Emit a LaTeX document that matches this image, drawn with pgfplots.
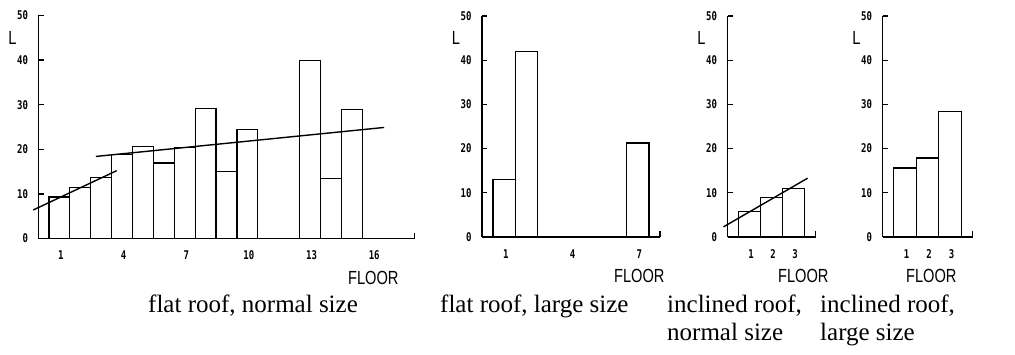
\documentclass[border=0pt]{standalone}
\usepackage{pgfplots}
\pgfplotsset{compat=1.18}
\usepackage{graphicx}
\usepackage{fontspec}
\setmainfont{Liberation Serif}
\newfontfamily\tickfont{DejaVu Sans Mono}
\newfontfamily\labfont{Liberation Sans}
\newcommand\tk[1]{\scalebox{0.75}[1]{\tickfont\bfseries\fontsize{12}{12}\selectfont #1}}
\newcommand\lb[1]{\scalebox{0.77}[1]{\labfont\fontsize{19}{19}\selectfont #1}}
\pgfplotsset{
  panel/.style={
    scale only axis, clip=false,
    axis lines=left, axis line style={-, line width=1.4pt},
    ymin=0, ymax=50, ytick={0,10,20,30,40,50},
    yticklabels={\tk{0},\tk{10},\tk{20},\tk{30},\tk{40},\tk{50}},
    tick align=inside, major tick length=5pt,
    ytick style={line width=1.2pt, black},
    xtick style={draw=none},
    yticklabel style={xshift=-7pt},
    xticklabel style={yshift=-9pt, xshift=1.5pt},
    every axis x label/.style={at={(axis description cs:1,0)}, anchor=east, yshift=-39pt},
    every axis y label/.style={at={(axis description cs:0,1)}, anchor=center, xshift=-26pt, yshift=-22pt},
    xlabel={\lb{FLOOR}}, ylabel={\lb{L}},
  },
  bars/.style={ybar, bar width=1, fill=white, draw=black, line width=1.3pt},
  fit/.style={black, line width=1.4pt, mark=none},
}
\begin{document}
\begin{tikzpicture}[x=1pt,y=1pt]
\useasboundingbox (0pt,0pt) rectangle (1015pt,354pt);
% panel 1
\begin{axis}[panel, at={(38.5pt,115.5pt)}, anchor=south west, width=376pt, height=223pt,
  xmin=0, xmax=18, xtick={1,4,7,10,13,16},
  xticklabels={\tk{1},\tk{4},\tk{7},\tk{10},\tk{13},\tk{16}},
  xlabel style={xshift=-12.5pt}]
\addplot[bars] coordinates {(1,9.3) (2,11.4) (3,13.7) (4,18.8) (5,20.6) (6,16.9) (7,20.4) (8,29.2) (9,15.0) (10,24.4) (13,39.9) (14,13.5) (15,28.9)};
\addplot[fit] coordinates {(-0.25,6.4) (3.74,15.2)};
\addplot[fit] coordinates {(2.75,18.4) (16.55,24.9)};
\draw[line width=1.2pt] (rel axis cs:1,0) -- ++(0pt,6pt);
\end{axis}
% panel 2
\begin{axis}[panel, at={(482pt,117pt)}, anchor=south west, width=178pt, height=221pt,
  xmin=0, xmax=8, xtick={1,4,7},
  xticklabels={\tk{1},\tk{4},\tk{7}},
  xlabel style={xshift=8pt}]
\addplot[bars] coordinates {(1,13.0) (2,41.9) (7,21.3)};
\draw[line width=1.2pt] (rel axis cs:1,0) -- ++(0pt,6pt);
\end{axis}
% panel 3
\begin{axis}[panel, at={(727.5pt,117pt)}, anchor=south west, width=88pt, height=221pt,
  xmin=0, xmax=4, xtick={1,2,3},
  xticklabels={\tk{1},\tk{2},\tk{3}},
  xlabel style={xshift=16.5pt}]
\addplot[bars] coordinates {(1,5.7) (2,8.9) (3,10.9)};
\addplot[fit] coordinates {(-0.18,2.3) (3.64,13.3)};
\draw[line width=1.2pt] (rel axis cs:1,0) -- ++(0pt,6pt);
\end{axis}
% panel 4
\begin{axis}[panel, at={(882.5pt,117pt)}, anchor=south west, width=90pt, height=221pt,
  xmin=0, xmax=4, xtick={1,2,3},
  xticklabels={\tk{1},\tk{2},\tk{3}},
  xlabel style={xshift=-12.5pt}]
\addplot[bars] coordinates {(1,15.6) (2,17.9) (3,28.4)};
\draw[line width=1.2pt] (rel axis cs:1,0) -- ++(0pt,6pt);
\end{axis}
% captions
\begin{scope}[every node/.style={inner sep=0pt, anchor=base west, font=\fontsize{25}{25}\selectfont}]
\node at (148pt,42pt) {flat roof, normal size};
\node at (440pt,42pt) {flat roof, large size};
\node at (667pt,42pt) {inclined roof,};
\node at (667pt,14pt) {normal size};
\node at (820pt,42pt) {inclined roof,};
\node at (820pt,14pt) {large size};
\end{scope}
\end{tikzpicture}
\end{document}
